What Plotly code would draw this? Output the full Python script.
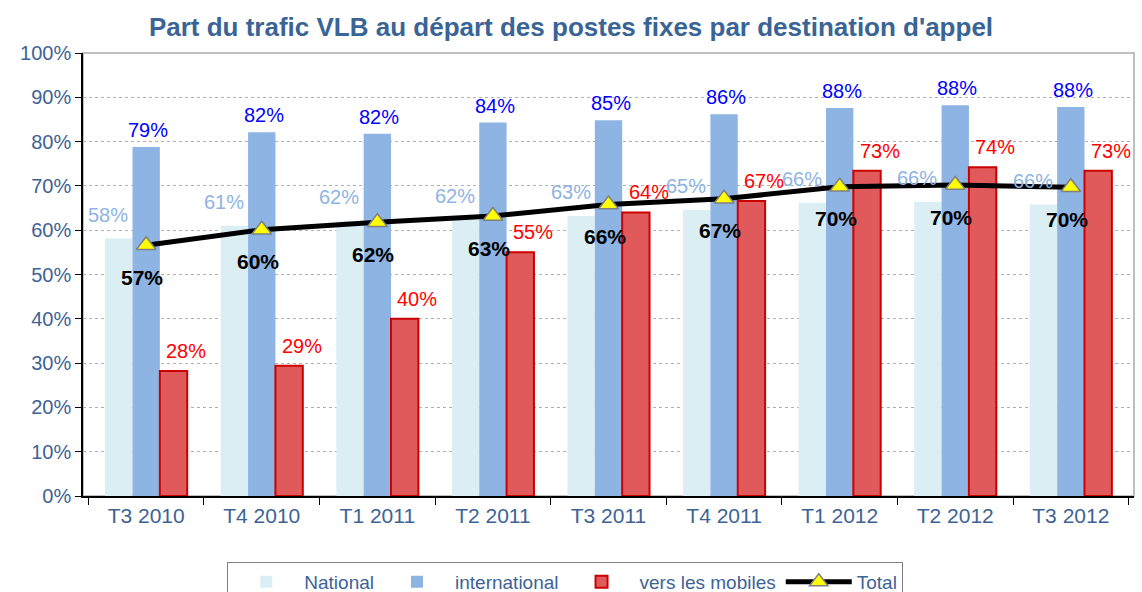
import plotly.graph_objects as go

categories = ["T3 2010", "T4 2010", "T1 2011", "T2 2011", "T3 2011",
              "T4 2011", "T1 2012", "T2 2012", "T3 2012"]
national = [58.1, 61.0, 62.0, 62.3, 63.2, 64.6, 66.2, 66.4, 65.8]
international = [78.8, 82.1, 81.8, 84.3, 84.8, 86.2, 87.6, 88.2, 87.8]
mobiles = [28.2, 29.4, 40.0, 55.0, 64.0, 66.6, 73.4, 74.2, 73.4]
total = [56.6, 60.1, 61.8, 63.2, 65.8, 67.1, 69.8, 70.2, 69.7]

FONT = "Liberation Sans, Arial, sans-serif"
AXIS_BLUE = "#3D6395"
C_NAT = "#DAEEF3"
C_INT = "#8EB4E3"
C_MOB = "#E05A5C"
C_MOB_LINE = "#CC0000"

fig = go.Figure()
fig.add_trace(go.Bar(x=categories, y=national, name="National",
                     marker=dict(color=C_NAT, line=dict(width=0))))
fig.add_trace(go.Bar(x=categories, y=international, name="international",
                     marker=dict(color=C_INT, line=dict(width=0))))
fig.add_trace(go.Bar(x=categories, y=mobiles, name="vers les mobiles",
                     marker=dict(color=C_MOB, line=dict(color=C_MOB_LINE, width=2))))
fig.add_trace(go.Scatter(x=categories, y=total, name="Total", mode="lines+markers",
                         line=dict(color="black", width=5),
                         marker=dict(symbol="triangle-up", size=17, color="#FFFF00",
                                     line=dict(color="#808080", width=1.5))))

ann = []
def pct(v):
    return f"{round(v):d}%"

LBL = 20
for c, v in zip(categories, national):
    ann.append(dict(x=c, y=v, xref="x", yref="y", text=pct(v), showarrow=False,
                    xshift=-38, yshift=24, font=dict(family=FONT, size=LBL, color=C_INT)))
for c, v in zip(categories, international):
    ann.append(dict(x=c, y=v, xref="x", yref="y", text=pct(v), showarrow=False,
                    xshift=2, yshift=17, font=dict(family=FONT, size=LBL, color="#0000FF")))
for c, v in zip(categories, mobiles):
    ann.append(dict(x=c, y=v, xref="x", yref="y", text=pct(v), showarrow=False,
                    xshift=40, yshift=20, font=dict(family=FONT, size=LBL, color="#FF0000")))
for c, v in zip(categories, total):
    ann.append(dict(x=c, y=v, xref="x", yref="y", text="<b>" + pct(v) + "</b>", showarrow=False,
                    xshift=-4, yshift=-32, font=dict(family=FONT, size=21, color="black")))

fig.update_layout(
    width=1142, height=592,
    margin=dict(l=83, r=8, t=53, b=96),
    paper_bgcolor="white", plot_bgcolor="white",
    barmode="group", bargap=0.29, bargroupgap=0,
    font=dict(family=FONT, size=20, color=AXIS_BLUE),
    title=dict(text="<b>Part du trafic VLB au départ des postes fixes par destination d'appel</b>",
               x=0.5, xref="container", xanchor="center",
               y=1 - 27 / 592, yref="container", yanchor="middle",
               font=dict(family=FONT, size=26, color="#3A6496")),
    xaxis=dict(type="category", tickson="boundaries", ticks="outside", ticklen=7,
               tickcolor="black", showline=True, linecolor="black", linewidth=1.5,
               showgrid=False, tickfont=dict(size=21, color=AXIS_BLUE)),
    yaxis=dict(range=[0, 100], dtick=10, ticksuffix="%", ticks="outside", ticklen=6,
               tickcolor="black", showline=True, linecolor="black", linewidth=1.5,
               showgrid=True, gridcolor="#B0B0B0", griddash="dot", gridwidth=1,
               zeroline=False, tickfont=dict(size=20, color=AXIS_BLUE)),
    legend=dict(orientation="h", xref="container", x=0.495, xanchor="center",
                yref="container", y=1 - 562 / 592, yanchor="top",
                bordercolor="#808080", borderwidth=1, bgcolor="white",
                font=dict(family=FONT, size=19, color=AXIS_BLUE),
                itemwidth=66, traceorder="normal"),
    annotations=ann,
    shapes=[dict(type="rect", xref="paper", yref="paper", x0=0, x1=1, y0=0, y1=1,
                 line=dict(color="#BFBFBF", width=2), layer="below")],
)

fig.write_html("out.html", config={"displayModeBar": False},
               post_script="document.body.style.margin='0px';")
